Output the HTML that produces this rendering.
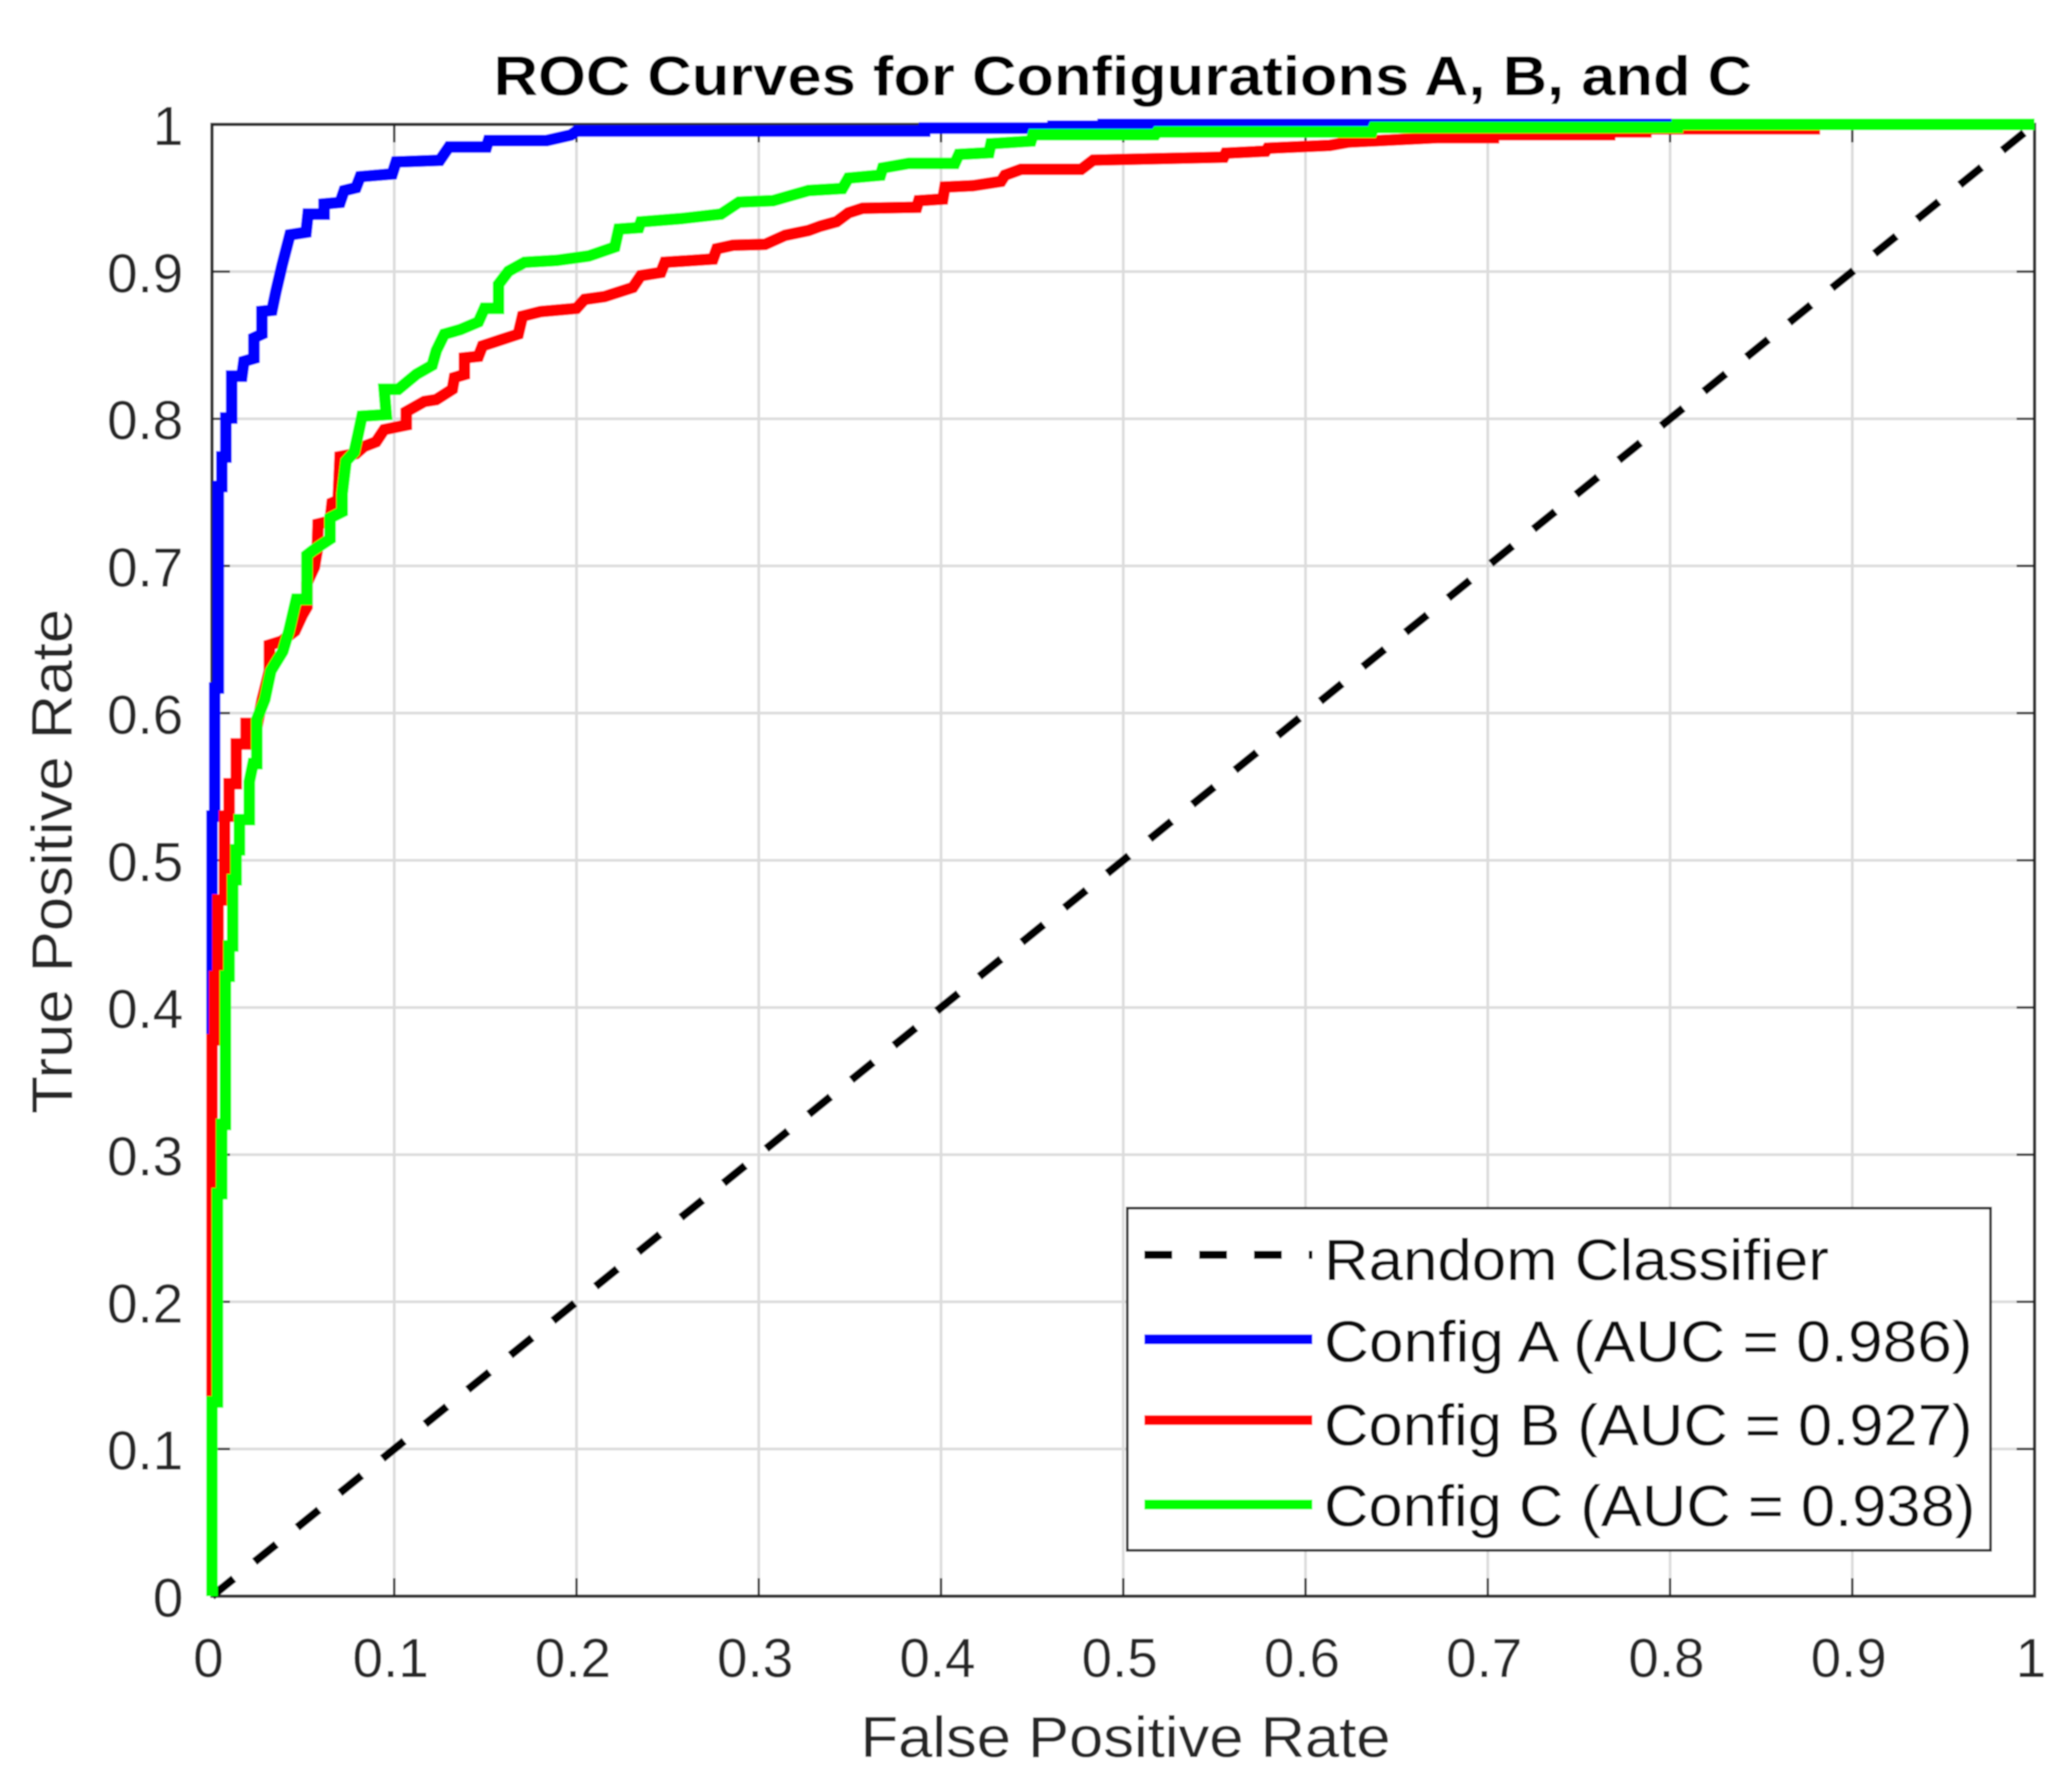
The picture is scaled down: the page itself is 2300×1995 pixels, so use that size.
<!DOCTYPE html>
<html lang="en">
<head>
<meta charset="utf-8">
<title>ROC Curves for Configurations A, B, and C</title>
<style>
html,body{margin:0;padding:0;background:#fff;}
body{width:2300px;height:1995px;overflow:hidden;}
svg{display:block;font-family:"Liberation Sans",Arial,sans-serif;}
</style>
</head>
<body>
<svg id="chart" xmlns="http://www.w3.org/2000/svg" width="2300" height="1995" viewBox="0 0 2300 1995">
  <defs>
    <filter id="soften" x="0" y="0" width="100%" height="100%" filterUnits="objectBoundingBox">
      <feGaussianBlur stdDeviation="0.8"/>
    </filter>
  </defs>
  <rect x="0" y="0" width="2300" height="1995" fill="#ffffff"/>
  <g filter="url(#soften)">
  <rect x="0" y="0" width="2300" height="1995" fill="#ffffff"/>
  <g id="grid"></g>
  <g id="frame"></g>
  <g id="ticks"></g>
  <g id="curves"></g>
  <text x="1250" y="106" text-anchor="middle" font-size="62" font-weight="bold" fill="#000" textLength="1401" lengthAdjust="spacingAndGlyphs">ROC Curves for Configurations A, B, and C</text>
  <text x="1253" y="1956" text-anchor="middle" font-size="64" fill="#262626" textLength="590" lengthAdjust="spacingAndGlyphs">False Positive Rate</text>
  <text transform="translate(80,959) rotate(-90)" text-anchor="middle" font-size="64" fill="#262626" textLength="562" lengthAdjust="spacingAndGlyphs">True Positive Rate</text>
  <g>
    <rect x="1255" y="1345" width="961" height="381" fill="#ffffff" stroke="#262626" stroke-width="3"/>
    <line x1="1274" y1="1397" x2="1461" y2="1397" stroke="#000" stroke-width="9" stroke-dasharray="31 30"/>
    <text x="1474" y="1425" font-size="65" fill="#111" textLength="562" lengthAdjust="spacingAndGlyphs">Random Classifier</text>
    <line x1="1274" y1="1491" x2="1461" y2="1491" stroke="#0000ff" stroke-width="11"/>
    <text x="1474" y="1516" font-size="65" fill="#111" textLength="722" lengthAdjust="spacingAndGlyphs">Config A (AUC = 0.986)</text>
    <line x1="1274" y1="1581" x2="1461" y2="1581" stroke="#ff0000" stroke-width="11"/>
    <text x="1474" y="1609" font-size="65" fill="#111" textLength="722" lengthAdjust="spacingAndGlyphs">Config B (AUC = 0.927)</text>
    <line x1="1274" y1="1675" x2="1461" y2="1675" stroke="#00ff00" stroke-width="11"/>
    <text x="1474" y="1699" font-size="65" fill="#111" textLength="725" lengthAdjust="spacingAndGlyphs">Config C (AUC = 0.938)</text>
  </g>
  </g>
</svg>
<script>
const xTickValues = [0,0.1,0.2,0.3,0.4,0.5,0.6,0.7,0.8,0.9,1];
const yTickValues = [0,0.1,0.2,0.3,0.4,0.5,0.6,0.7,0.8,0.9,1];
const xTickLabels = ["0","0.1","0.2","0.3","0.4","0.5","0.6","0.7","0.8","0.9","1"];
const yTickLabels = ["0","0.1","0.2","0.3","0.4","0.5","0.6","0.7","0.8","0.9","1"];

const randomFpr = [0,1];
const randomTpr = [0,1];

const configAFpr = [0,0,0.0015,0.0015,0.0035,0.0035,0.0054,0.0054,0.0076,0.0076,0.0108,0.0108,0.0164,0.0175,0.023,0.023,0.0274,0.0274,0.0329,0.035,0.0384,0.0428,0.0516,0.0527,0.0615,0.0615,0.0703,0.0725,0.079,0.0813,0.0989,0.101,0.125,0.13,0.1506,0.1517,0.1836,0.1969,0.2,0.391,0.391,0.4615,0.4615,0.489,0.489,1];
const configATpr = [0,0.53,0.53,0.617,0.617,0.754,0.754,0.774,0.774,0.8005,0.8005,0.829,0.829,0.839,0.841,0.855,0.8575,0.873,0.8737,0.886,0.904,0.925,0.9267,0.939,0.939,0.946,0.947,0.955,0.957,0.9645,0.9664,0.9745,0.9756,0.9847,0.9847,0.989,0.989,0.9928,0.9955,0.9955,0.9975,0.9975,0.9988,0.9988,1,1];

const configBFpr = [0,0,0.0015,0.0015,0.0033,0.0033,0.0069,0.0069,0.0094,0.0094,0.0133,0.0133,0.0187,0.0187,0.025,0.0275,0.0315,0.0315,0.0381,0.0455,0.0496,0.0521,0.0521,0.0562,0.0577,0.0582,0.0648,0.0659,0.0692,0.0703,0.079,0.0835,0.09,0.0945,0.1066,0.1066,0.1165,0.123,0.1319,0.133,0.1385,0.1385,0.1462,0.1484,0.1583,0.168,0.1704,0.1803,0.2,0.2045,0.2155,0.2309,0.2353,0.2463,0.2485,0.2749,0.277,0.2859,0.3035,0.3145,0.3273,0.3339,0.3427,0.3492,0.3569,0.3867,0.3878,0.401,0.4021,0.4175,0.4329,0.4351,0.4439,0.4769,0.4835,0.5551,0.5562,0.5781,0.5792,0.6133,0.6232,0.6722,0.7031,0.7031,0.7669,0.7669,0.7867,0.7867,0.8791,0.8791,1];
const configBTpr = [0,0.378,0.378,0.421,0.421,0.473,0.473,0.53,0.53,0.552,0.552,0.579,0.579,0.593,0.593,0.609,0.6286,0.6463,0.6488,0.6557,0.6666,0.672,0.6884,0.6992,0.7104,0.7285,0.7305,0.7428,0.7446,0.7743,0.7763,0.7812,0.7843,0.7926,0.7957,0.8048,0.8117,0.813,0.82,0.828,0.83,0.8414,0.8424,0.8495,0.8536,0.8575,0.8697,0.8728,0.875,0.8811,0.883,0.8892,0.8972,0.8994,0.9063,0.9085,0.9155,0.9179,0.9185,0.9246,0.9279,0.9309,0.9339,0.9399,0.943,0.9437,0.9482,0.9493,0.9574,0.9583,0.9613,0.9655,0.9695,0.9695,0.9757,0.9777,0.9805,0.9818,0.9838,0.9857,0.9879,0.991,0.991,0.993,0.993,0.995,0.995,0.997,0.997,1,1];

const configCFpr = [0,0,0.003,0.003,0.0053,0.0053,0.0074,0.0074,0.0094,0.0094,0.0114,0.0114,0.0132,0.0132,0.0151,0.0151,0.0205,0.0205,0.0225,0.0246,0.0246,0.029,0.0323,0.0389,0.0422,0.0463,0.0521,0.0521,0.0552,0.0648,0.0648,0.0714,0.0714,0.0736,0.078,0.0802,0.0823,0.0956,0.0945,0.1022,0.1121,0.1208,0.1231,0.1275,0.1363,0.1462,0.1495,0.1572,0.1572,0.1627,0.1715,0.1891,0.2067,0.221,0.2232,0.2342,0.2353,0.2573,0.2793,0.2892,0.3079,0.3273,0.3459,0.3492,0.3668,0.368,0.3823,0.4076,0.4098,0.4263,0.4274,0.4494,0.4505,0.5176,0.5187,0.6364,0.6375,0.804,0.804,1];
const configCTpr = [0,0.132,0.132,0.2735,0.2735,0.3206,0.3206,0.4213,0.4213,0.4418,0.4418,0.4867,0.4867,0.5071,0.5071,0.5276,0.5276,0.5535,0.5657,0.5657,0.5957,0.6093,0.6286,0.642,0.6557,0.6774,0.6774,0.7074,0.7104,0.7183,0.7326,0.7367,0.7489,0.7712,0.7773,0.7895,0.8018,0.8028,0.82,0.82,0.8302,0.8363,0.8464,0.8575,0.8606,0.8658,0.875,0.875,0.8913,0.9003,0.9063,0.9076,0.9106,0.9167,0.9289,0.9299,0.9338,0.936,0.9391,0.9472,0.9482,0.9551,0.9564,0.9635,0.9655,0.9704,0.9735,0.9735,0.9796,0.9808,0.9869,0.9887,0.993,0.993,0.9948,0.9948,0.9979,0.9979,1,1];

const SVG_NS = "http://www.w3.org/2000/svg";
function xScale(v){ return 236 + v * 2029; }
function yScale(v){ return 1777 - v * 1638.5; }

function make(tag, attrs, parent){
  const el = document.createElementNS(SVG_NS, tag);
  for (const k in attrs) el.setAttribute(k, attrs[k]);
  parent.appendChild(el);
  return el;
}
function pointsOf(xs, ys){
  return xs.map(function(x, i){ return xScale(x).toFixed(1) + "," + yScale(ys[i]).toFixed(1); }).join(" ");
}

const gridGroup = document.getElementById("grid");
const tickGroup = document.getElementById("ticks");
const frameGroup = document.getElementById("frame");
const curveGroup = document.getElementById("curves");
const axisColor = "#262626";
const gridColor = "#dcdcdc";

xTickValues.forEach(function(v, i){
  const px = xScale(v);
  if (v > 0 && v < 1) {
    const g = make("line", {x1:px, y1:yScale(0), x2:px, y2:yScale(1), stroke:gridColor, "stroke-width":3}, gridGroup);
    
    
  }
  const t1 = make("line", {x1:px, y1:yScale(0), x2:px, y2:yScale(0)-20, stroke:axisColor, "stroke-width":2.5}, tickGroup);
  
  
  const t2 = make("line", {x1:px, y1:yScale(1), x2:px, y2:yScale(1)+20, stroke:axisColor, "stroke-width":2.5}, tickGroup);
  
  
  const label = make("text", {x:px-4, y:1867, "text-anchor":"middle", "font-size":61, fill:axisColor}, tickGroup);
  label.textContent = xTickLabels[i];
  
  
});

yTickValues.forEach(function(v, i){
  const py = yScale(v);
  if (v > 0 && v < 1) {
    const g = make("line", {x1:xScale(0), y1:py, x2:xScale(1), y2:py, stroke:gridColor, "stroke-width":3}, gridGroup);
    
    
  }
  const t1 = make("line", {x1:xScale(0), y1:py, x2:xScale(0)+20, y2:py, stroke:axisColor, "stroke-width":2.5}, tickGroup);
  
  
  const t2 = make("line", {x1:xScale(1), y1:py, x2:xScale(1)-20, y2:py, stroke:axisColor, "stroke-width":2.5}, tickGroup);
  
  
  const label = make("text", {x:204, y:py+23, "text-anchor":"end", "font-size":61, fill:axisColor}, tickGroup);
  label.textContent = yTickLabels[i];
  
  
});

const frameRect = make("rect", {x:xScale(0), y:yScale(1), width:xScale(1)-xScale(0), height:yScale(0)-yScale(1), fill:"none", stroke:axisColor, "stroke-width":3.5}, frameGroup);



const randomLine = make("polyline", {points:pointsOf(randomFpr, randomTpr), fill:"none", stroke:"#000000", "stroke-width":9, "stroke-dasharray":"31 30"}, curveGroup);



const curveA = make("polyline", {points:pointsOf(configAFpr, configATpr), fill:"none", stroke:"#0000ff", "stroke-width":13, "stroke-linejoin":"miter", "stroke-miterlimit":2}, curveGroup);



const curveB = make("polyline", {points:pointsOf(configBFpr, configBTpr), fill:"none", stroke:"#ff0000", "stroke-width":13, "stroke-linejoin":"miter", "stroke-miterlimit":2}, curveGroup);



const curveC = make("polyline", {points:pointsOf(configCFpr, configCTpr), fill:"none", stroke:"#00ff00", "stroke-width":13, "stroke-linejoin":"miter", "stroke-miterlimit":2}, curveGroup);


</script>
</body>
</html>
